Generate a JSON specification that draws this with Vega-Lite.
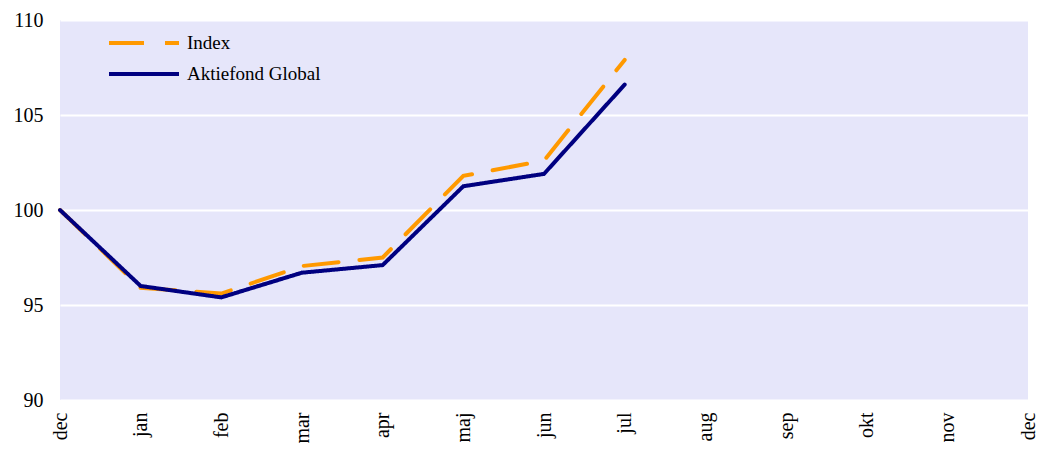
{
  "$schema": "https://vega.github.io/schema/vega-lite/v6.json",
  "width": 968,
  "height": 380,
  "autosize": {"type": "none"},
  "padding": {"left": 60, "top": 20, "right": 11, "bottom": 49},
  "background": "white",
  "config": {
    "view": {"fill": "#E6E6FA", "stroke": null},
    "font": "Liberation Serif"
  },
  "data": {
    "values": [
      {"m": 0, "series": "Index", "value": 100},
      {"m": 1, "series": "Index", "value": 95.9},
      {"m": 2, "series": "Index", "value": 95.6},
      {"m": 3, "series": "Index", "value": 97.05},
      {"m": 4, "series": "Index", "value": 97.5},
      {"m": 5, "series": "Index", "value": 101.8},
      {"m": 6, "series": "Index", "value": 102.6},
      {"m": 7, "series": "Index", "value": 107.9},
      {"m": 0, "series": "Aktiefond Global", "value": 100},
      {"m": 1, "series": "Aktiefond Global", "value": 96.0},
      {"m": 2, "series": "Aktiefond Global", "value": 95.4},
      {"m": 3, "series": "Aktiefond Global", "value": 96.7},
      {"m": 4, "series": "Aktiefond Global", "value": 97.1},
      {"m": 5, "series": "Aktiefond Global", "value": 101.25},
      {"m": 6, "series": "Aktiefond Global", "value": 101.9},
      {"m": 7, "series": "Aktiefond Global", "value": 106.6}
    ]
  },
  "mark": {"type": "line", "strokeWidth": 4, "strokeCap": "round", "strokeJoin": "miter"},
  "encoding": {
    "x": {
      "field": "m",
      "type": "quantitative",
      "scale": {"domain": [0, 12], "nice": false, "zero": false},
      "axis": {
        "title": null,
        "values": [0,1,2,3,4,5,6,7,8,9,10,11,12],
        "labelExpr": "['dec','jan','feb','mar','apr','maj','jun','jul','aug','sep','okt','nov','dec'][datum.value]",
        "labelAngle": 270,
        "labelAlign": "right",
        "labelBaseline": "middle",
        "labelFontSize": 20,
        "labelColor": "#000000",
        "labelPadding": 12,
        "ticks": false,
        "domain": false,
        "grid": false,
        "labelOverlap": false,
        "labelBound": false,
        "labelFlush": false
      }
    },
    "y": {
      "field": "value",
      "type": "quantitative",
      "scale": {"domain": [90, 110], "nice": false, "zero": false},
      "axis": {
        "title": null,
        "values": [90, 95, 100, 105, 110],
        "labelFontSize": 20,
        "labelColor": "#000000",
        "labelPadding": 17,
        "ticks": false,
        "domain": false,
        "grid": true,
        "gridColor": "#ffffff",
        "gridWidth": 2,
        "gridOpacity": 1
      }
    },
    "color": {
      "field": "series",
      "type": "nominal",
      "sort": ["Index", "Aktiefond Global"],
      "scale": {"domain": ["Index", "Aktiefond Global"], "range": ["#FF9900", "#000080"]},
      "legend": {
        "title": null,
        "orient": "none",
        "legendX": 73,
        "legendY": 12,
        "symbolType": "M-4,0H4",
        "symbolStrokeWidth": 4,
        "symbolSize": 306.25,
        "symbolFillColor": "transparent",
        "labelFontSize": 19,
        "labelColor": "#000000",
        "labelOffset": 32,
        "rowPadding": 10
      }
    },
    "strokeDash": {
      "field": "series",
      "type": "nominal",
      "sort": ["Index", "Aktiefond Global"],
      "scale": {"domain": ["Index", "Aktiefond Global"], "range": [[35, 21], [1, 0]]},
      "legend": {
        "title": null,
        "orient": "none",
        "legendX": 73,
        "legendY": 12,
        "symbolType": "M-4,0H4",
        "symbolStrokeWidth": 4,
        "symbolSize": 306.25,
        "symbolFillColor": "transparent",
        "labelFontSize": 19,
        "labelColor": "#000000",
        "labelOffset": 32,
        "rowPadding": 10
      }
    },
    "order": {"field": "series", "sort": "descending"}
  }
}
